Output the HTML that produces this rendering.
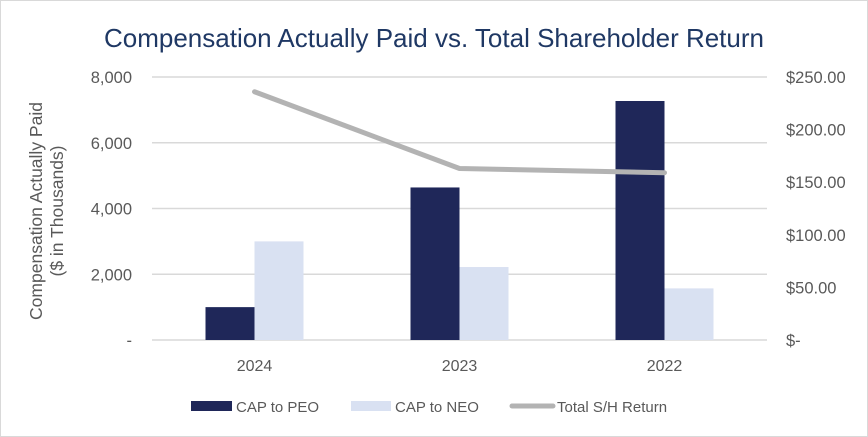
<!DOCTYPE html>
<html><head><meta charset="utf-8"><style>
html,body{margin:0;padding:0;background:#fff;}
svg{display:block;font-family:"Liberation Sans",sans-serif;}
</style></head><body>
<svg id="chart" width="868" height="437" viewBox="0 0 868 437">
<rect x="0.5" y="0.5" width="867" height="436" fill="#fff" stroke="#d9d9d9"/>
<text x="434" y="47" text-anchor="middle" font-size="26" fill="#1f3864">Compensation Actually Paid vs. Total Shareholder Return</text>
<text transform="translate(50,211) rotate(-90)" text-anchor="middle" font-size="17.5" fill="#595959"><tspan x="0" y="-8">Compensation Actually Paid</tspan><tspan x="0" y="13">($ in Thousands)</tspan></text>
<g id="grid"></g><g id="bars"></g><g id="line"></g><g id="labels"></g>
<g>
<rect x="191" y="401" width="41" height="10" fill="#1f2759"/>
<text x="236" y="412" font-size="15" fill="#595959">CAP to PEO</text>
<rect x="351" y="401" width="40" height="10" fill="#d9e1f2"/>
<text x="395" y="412" font-size="15" fill="#595959">CAP to NEO</text>
<line x1="512" y1="406" x2="553" y2="406" stroke="#b3b3b3" stroke-width="5" stroke-linecap="round"/>
<text x="557" y="412" font-size="15" fill="#595959">Total S/H Return</text>
</g>
</svg>
<script>
const categories = ["2024", "2023", "2022"];
const capPEO = [1000, 4640, 7270];
const capNEO = [3000, 2220, 1570];
const tsr = [236, 163, 159];
const leftTicks = [0, 2000, 4000, 6000, 8000];
const leftTickLabels = ["-", "2,000", "4,000", "6,000", "8,000"];
const rightTicks = [0, 50, 100, 150, 200, 250];
const rightTickLabels = ["$-", "$50.00", "$100.00", "$150.00", "$200.00", "$250.00"];

const NS = "http://www.w3.org/2000/svg";
const X0 = 152, X1 = 767, Y0 = 340, Y1 = 77;
const band = (X1 - X0) / categories.length;
const xc = i => X0 + band * (i + 0.5);
const yL = v => Y0 - v / 8000 * (Y0 - Y1);
const yR = v => Y0 - v / 250 * (Y0 - Y1);
const barW = 49;
function mk(tag, attrs, parent) {
  const e = document.createElementNS(NS, tag);
  for (const k in attrs) e.setAttribute(k, attrs[k]);
  parent.appendChild(e);
  return e;
}
const grid = document.getElementById("grid");
const labels = document.getElementById("labels");
leftTicks.forEach((t, i) => {
  const l = mk("line", {x1: X0, x2: X1, y1: yL(t), y2: yL(t), stroke: "#d9d9d9", "stroke-width": 1.5}, grid);
  
  
  const tx = mk("text", {x: 132, y: yL(t) + 6, "text-anchor": "end", "font-size": 16.5, fill: "#595959"}, labels);
  tx.textContent = leftTickLabels[i];
  
  
});
rightTicks.forEach((t, i) => {
  const tx = mk("text", {x: 786, y: yR(t) + 6, "font-size": 16.5, fill: "#595959"}, labels);
  tx.textContent = rightTickLabels[i];
  
  
});
const bars = document.getElementById("bars");
categories.forEach((c, i) => {
  const b1 = mk("rect", {x: xc(i) - barW, y: yL(capPEO[i]), width: barW, height: Y0 - yL(capPEO[i]), fill: "#1f2759"}, bars);
  
  
  const b2 = mk("rect", {x: xc(i), y: yL(capNEO[i]), width: barW, height: Y0 - yL(capNEO[i]), fill: "#d9e1f2"}, bars);
  
  
  const tx = mk("text", {x: xc(i), y: 371, "text-anchor": "middle", "font-size": 16, fill: "#595959"}, labels);
  tx.textContent = c;
  
  
});
const pts = tsr.map((v, i) => xc(i) + "," + yR(v)).join(" ");
const pl = mk("polyline", {points: pts, fill: "none", stroke: "#b3b3b3", "stroke-width": 5, "stroke-linecap": "round", "stroke-linejoin": "round"}, document.getElementById("line"));


</script>
</body></html>
